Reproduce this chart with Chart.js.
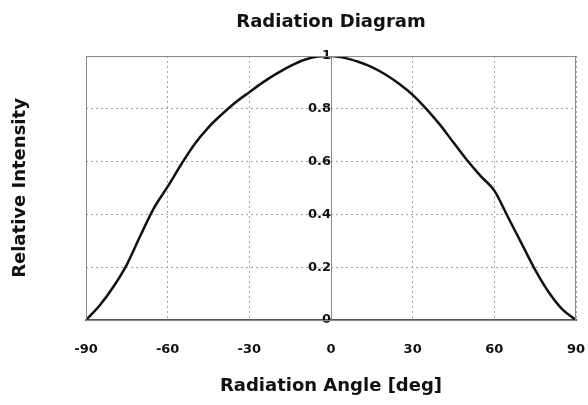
<!DOCTYPE html>
<html lang="en">
<head>
    <meta charset="UTF-8">
    <title>Radiation Diagram</title>
    <script src="https://cdn.jsdelivr.net/npm/chart.js"></script>
    <style>
        html, body {
            margin: 0;
            padding: 0;
            background: #fff;
        }
        .chart-box {
            width: 588px;
            height: 405px;
        }
    </style>
</head>
<body>
    <div class="chart-box">
        <canvas id="radChart"></canvas>
    </div>

    <script>
        // angle in degrees, intensity
        const angles = [-90, -85, -80, -75, -70, -65, -60, -55, -50, -45, -40, -35, -30, -25, -20, -15, -10, -5,
                        0, 5, 10, 15, 20, 25, 30, 35, 40, 45, 50, 55, 60, 65, 70, 75, 80, 85, 90];
        const intensity = [0, 0.055, 0.125, 0.21, 0.32, 0.425, 0.505, 0.59, 0.668, 0.73, 0.78, 0.825, 0.863, 0.90, 0.933, 0.962, 0.985, 0.998,
                           1.0, 0.993, 0.978, 0.958, 0.93, 0.895, 0.853, 0.80, 0.74, 0.672, 0.605, 0.545, 0.49, 0.39, 0.29, 0.19, 0.105, 0.04, 0];
        const angleTicks = [-90, -60, -30, 0, 30, 60, 90];
        const intensityTicks = [0, 0.2, 0.4, 0.6, 0.8, 1];

        const fontFamily = "'DejaVu Sans', Verdana, sans-serif";

        // gray frame around the plot area
        const frame = {
            id: 'frame',
            afterDatasetsDraw(chart) {
                const a = chart.chartArea;
                const ctx = chart.ctx;
                ctx.save();
                ctx.strokeStyle = '#8a8a8a';
                ctx.lineWidth = 1;
                ctx.strokeRect(a.left + 0.5, a.top + 0.5, a.right - a.left - 1, a.bottom - a.top);
                ctx.restore();
            }
        };

        const points = angles.map((a, i) => ({ x: a, y: intensity[i] }));

        new Chart(document.getElementById('radChart'), {
            type: 'line',
            data: {
                datasets: [{
                    data: points,
                    borderColor: '#111',
                    borderWidth: 2.5,
                    pointRadius: 0,
                    cubicInterpolationMode: 'monotone',
                    fill: false
                }]
            },
            options: {
                responsive: true,
                maintainAspectRatio: false,
                animation: false,
                layout: {
                    padding: { left: 4, right: 12, top: 0, bottom: 4 }
                },
                plugins: {
                    legend: { display: false },
                    tooltip: { enabled: false },
                    title: {
                        display: true,
                        fullSize: false,
                        text: 'Radiation Diagram',
                        color: '#111',
                        font: { family: fontFamily, size: 18, weight: 'bold' },
                        padding: { top: 11.2, bottom: 23.2 }
                    }
                },
                scales: {
                    x: {
                        type: 'linear',
                        min: -90,
                        max: 90,
                        afterBuildTicks: s => { s.ticks = angleTicks.map(v => ({ value: v })); },
                        // let the "90" label hang into the right margin
                        afterFit: s => { s.paddingRight = 0; },
                        ticks: {
                            color: '#111',
                            padding: 9.7,
                            font: { family: fontFamily, size: 13, weight: 'bold' }
                        },
                        grid: {
                            color: '#a0a0a0',
                            drawTicks: true,
                            tickLength: 12,
                            tickColor: 'rgba(0,0,0,0)'
                        },
                        border: {
                            display: true,
                            color: '#555',
                            width: 2,
                            dash: [2, 3]
                        },
                        title: {
                            display: true,
                            text: 'Radiation Angle [deg]',
                            color: '#111',
                            font: { family: fontFamily, size: 18, weight: 'bold' },
                            padding: { top: 8.2, bottom: 4.2 }
                        }
                    },
                    y: {
                        type: 'linear',
                        position: { x: 0 },
                        min: 0,
                        max: 1,
                        afterBuildTicks: s => { s.ticks = intensityTicks.map(v => ({ value: v })); },
                        ticks: {
                            color: '#111',
                            padding: 13,
                            font: { family: fontFamily, size: 13, weight: 'bold' },
                            callback: v => String(v)
                        },
                        grid: {
                            color: '#a0a0a0',
                            drawTicks: false
                        },
                        border: {
                            display: true,
                            color: '#8a8a8a',
                            width: 1,
                            dash: [2, 3]
                        }
                    },
                    // holds only the left-hand axis title
                    yTitle: {
                        type: 'linear',
                        position: 'left',
                        ticks: { display: false },
                        grid: { display: false, drawTicks: false },
                        border: { display: false },
                        title: {
                            display: true,
                            text: 'Relative Intensity',
                            color: '#111',
                            font: { family: fontFamily, size: 18, weight: 'bold' },
                            padding: { top: 5.2, bottom: 55.2 }
                        }
                    }
                }
            },
            plugins: [frame]
        });
    </script>
</body>
</html>
